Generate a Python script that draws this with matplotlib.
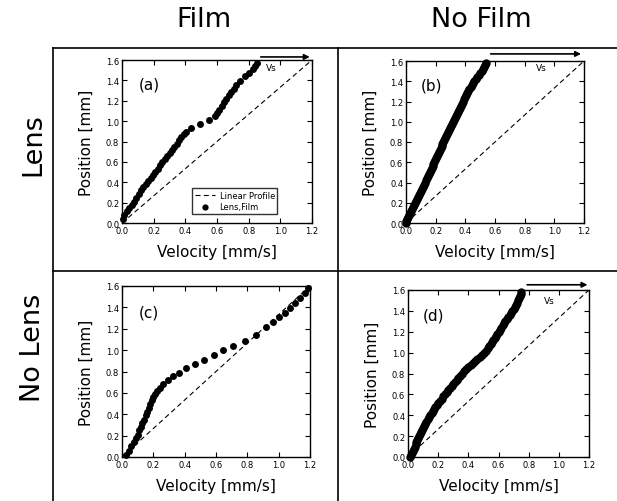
import matplotlib
matplotlib.use("Agg")
import matplotlib.pyplot as plt
from matplotlib.lines import Line2D

plt.rcParams['font.family'] = ['DejaVu Sans']

# ---------------- data ----------------
col_titles = ["Film", "No Film"]
row_titles = ["Lens", "No Lens"]
panel_labels = ["(a)", "(b)", "(c)", "(d)"]
xticks = [0.0, 0.2, 0.4, 0.6, 0.8, 1.0, 1.2]
yticks = [0.0, 0.2, 0.4, 0.6, 0.8, 1.0, 1.2, 1.4, 1.6]
linear_v = [0.0, 1.2]
linear_y = [0.0, 1.6]

vel_a = [0.005, 0.015, 0.03, 0.045, 0.06, 0.075, 0.09, 0.105, 0.12, 0.135, 0.15, 0.165,
         0.18, 0.195, 0.21, 0.225, 0.24, 0.255, 0.27, 0.285, 0.30, 0.315, 0.33, 0.345,
         0.36, 0.375, 0.39, 0.405, 0.435, 0.49, 0.55, 0.585, 0.60, 0.615, 0.63, 0.645,
         0.66, 0.675, 0.69, 0.705, 0.72, 0.745, 0.78, 0.805, 0.825, 0.84, 0.853]
pos_a = [0.04, 0.08, 0.12, 0.15, 0.18, 0.21, 0.25, 0.28, 0.32, 0.35, 0.38, 0.41,
         0.44, 0.47, 0.50, 0.53, 0.57, 0.60, 0.63, 0.66, 0.69, 0.72, 0.75, 0.78,
         0.81, 0.84, 0.87, 0.89, 0.93, 0.97, 1.01, 1.05, 1.08, 1.11, 1.15, 1.19,
         1.22, 1.26, 1.29, 1.32, 1.35, 1.39, 1.44, 1.47, 1.51, 1.54, 1.57]

vel_b = [0.000, 0.003, 0.010, 0.016, 0.023, 0.029, 0.036, 0.042, 0.049, 0.055,
         0.061, 0.067, 0.074, 0.081, 0.088, 0.094, 0.101, 0.107, 0.114, 0.121,
         0.128, 0.134, 0.141, 0.147, 0.153, 0.159, 0.166, 0.172, 0.179, 0.185,
         0.191, 0.197, 0.203, 0.209, 0.216, 0.222, 0.228, 0.234, 0.240, 0.246,
         0.252, 0.258, 0.264, 0.270, 0.277, 0.283, 0.290, 0.296, 0.303, 0.309,
         0.316, 0.322, 0.329, 0.336, 0.343, 0.350, 0.357, 0.364, 0.371, 0.378,
         0.386, 0.393, 0.400, 0.407, 0.414, 0.421, 0.428, 0.436, 0.444, 0.452,
         0.460, 0.469, 0.479, 0.490, 0.501, 0.512, 0.520, 0.527, 0.532, 0.537]
pos_b = [0.00, 0.02, 0.04, 0.06, 0.08, 0.10, 0.12, 0.14, 0.16, 0.18,
         0.20, 0.22, 0.24, 0.26, 0.28, 0.30, 0.32, 0.34, 0.36, 0.38,
         0.40, 0.42, 0.44, 0.46, 0.48, 0.50, 0.52, 0.54, 0.56, 0.58,
         0.60, 0.62, 0.64, 0.66, 0.68, 0.70, 0.72, 0.74, 0.76, 0.78,
         0.80, 0.82, 0.84, 0.86, 0.88, 0.90, 0.92, 0.94, 0.96, 0.98,
         1.00, 1.02, 1.04, 1.06, 1.08, 1.10, 1.12, 1.14, 1.16, 1.18,
         1.20, 1.22, 1.24, 1.26, 1.28, 1.30, 1.32, 1.34, 1.36, 1.38,
         1.40, 1.42, 1.44, 1.46, 1.48, 1.50, 1.52, 1.54, 1.56, 1.58]

vel_c = [0.025, 0.045, 0.06, 0.075, 0.09, 0.10, 0.11, 0.12, 0.13, 0.14, 0.15, 0.16,
         0.17, 0.18, 0.19, 0.20, 0.21, 0.225, 0.24, 0.262, 0.294, 0.326, 0.365,
         0.407, 0.465, 0.525, 0.586, 0.646, 0.71, 0.785, 0.853, 0.917, 0.966,
         1.002, 1.04, 1.07, 1.104, 1.136, 1.168, 1.19]
pos_c = [0.02, 0.06, 0.10, 0.14, 0.18, 0.21, 0.25, 0.28, 0.32, 0.35, 0.39, 0.42,
         0.46, 0.50, 0.53, 0.56, 0.59, 0.62, 0.65, 0.68, 0.72, 0.76, 0.79,
         0.83, 0.87, 0.91, 0.955, 1.00, 1.04, 1.09, 1.14, 1.22, 1.26,
         1.31, 1.35, 1.39, 1.44, 1.49, 1.53, 1.58]

vel_d = [0.012, 0.017, 0.024, 0.031, 0.038, 0.044, 0.050, 0.056, 0.062, 0.068,
         0.075, 0.082, 0.089, 0.095, 0.102, 0.108, 0.115, 0.122, 0.130, 0.138,
         0.147, 0.156, 0.164, 0.173, 0.182, 0.191, 0.201, 0.212, 0.223, 0.234,
         0.245, 0.256, 0.267, 0.278, 0.289, 0.300, 0.311, 0.322, 0.334, 0.347,
         0.360, 0.373, 0.386, 0.400, 0.415, 0.430, 0.445, 0.460, 0.476, 0.492,
         0.505, 0.517, 0.528, 0.538, 0.547, 0.556, 0.565, 0.574, 0.583, 0.592,
         0.601, 0.610, 0.618, 0.627, 0.636, 0.645, 0.655, 0.664, 0.673, 0.682,
         0.691, 0.700, 0.708, 0.716, 0.723, 0.730, 0.736, 0.742, 0.746, 0.750]
pos_d = [0.00, 0.02, 0.04, 0.06, 0.08, 0.10, 0.12, 0.14, 0.16, 0.18,
         0.20, 0.22, 0.24, 0.26, 0.28, 0.30, 0.32, 0.34, 0.36, 0.38,
         0.40, 0.42, 0.44, 0.46, 0.48, 0.50, 0.52, 0.54, 0.56, 0.58,
         0.60, 0.62, 0.64, 0.66, 0.68, 0.70, 0.72, 0.74, 0.76, 0.78,
         0.80, 0.82, 0.84, 0.86, 0.88, 0.90, 0.92, 0.94, 0.96, 0.98,
         1.00, 1.02, 1.04, 1.06, 1.08, 1.10, 1.12, 1.14, 1.16, 1.18,
         1.20, 1.22, 1.24, 1.26, 1.28, 1.30, 1.32, 1.34, 1.36, 1.38,
         1.40, 1.42, 1.44, 1.46, 1.48, 1.50, 1.52, 1.54, 1.56, 1.58]

# ---------------- figure ----------------
W, H = 617, 502
fig = plt.figure(figsize=(W / 100, H / 100), dpi=100)

def px_axes(x0, x1, ytop, ybot):
    return fig.add_axes([x0 / W, 1 - ybot / H, (x1 - x0) / W, (ybot - ytop) / H])

# frame lines
def fline(x0, y0, x1, y1):
    fig.add_artist(Line2D([x0 / W, x1 / W], [1 - y0 / H, 1 - y1 / H],
                          color='black', lw=1.2, transform=fig.transFigure))

fline(53, 49, 617, 49)
fline(53, 49, 53, 502)
fline(338, 49, 338, 502)
fline(53, 272, 617, 272)

fig.text(204 / W, 1 - 20 / H, col_titles[0], ha='center', va='center', fontsize=19.5)
fig.text(481 / W, 1 - 20 / H, col_titles[1], ha='center', va='center', fontsize=19.5)
fig.text(33 / W, 1 - 145 / H, row_titles[0], ha='center', va='center', fontsize=19.5, rotation=90)
fig.text(33 / W, 1 - 348 / H, row_titles[1], ha='center', va='center', fontsize=19.5, rotation=90)

boxes = [(122, 312, 61, 224), (406, 584, 62, 224), (122, 310, 287, 458), (408, 589, 291, 458)]
data = [(vel_a, pos_a), (vel_b, pos_b), (vel_c, pos_c), (vel_d, pos_d)]
msizes = [5.0, 6.0, 5.0, 6.0]
arrows = [(0.876, 1.186, 1.63, 0.94, 1.53), (0.571, 1.18, 1.67, 0.915, 1.54),
          None, (0.79, 1.19, 1.65, 0.94, 1.50)]

for i, (box, (vv, pp)) in enumerate(zip(boxes, data)):
    ax = px_axes(*box)
    ax.plot(linear_v, linear_y, color='black', lw=0.8, ls=(0, (4.5, 3)),
            label='Linear Profile', zorder=2)
    ax.plot(vv, pp, 'o', color='black', ms=msizes[i], mec='black', mew=0,
            label='Lens,Film', zorder=3, clip_on=False)
    ax.set_xlim(0, 1.2)
    ax.set_ylim(0, 1.6)
    ax.set_xticks(xticks)
    ax.set_yticks(yticks)
    ax.set_xticklabels([f"{t:.1f}" for t in xticks])
    ax.set_yticklabels([f"{t:.1f}" for t in yticks])
    ax.tick_params(direction='in', top=True, right=True, length=3.5, width=0.8,
                   labelsize=6, pad=2)
    for s in ax.spines.values():
        s.set_linewidth(1.0)
    ax.set_xlabel("Velocity [mm/s]", fontsize=11, labelpad=7)
    ax.set_ylabel("Position [mm]", fontsize=11, labelpad=9)
    ax.text(0.17, 1.36, panel_labels[i], fontsize=11, ha='center', va='center')
    if arrows[i] is not None:
        x0, x1, ya, xt, yt = arrows[i]
        ax.annotate('', xy=(x1, ya), xytext=(x0, ya), xycoords='data',
                    arrowprops=dict(arrowstyle='-|>', color='black', lw=1.2,
                                    mutation_scale=8, shrinkA=0, shrinkB=0),
                    annotation_clip=False)
        ax.text(xt, yt, 'Vs', fontsize=6.5, ha='center', va='center')
    if i == 0:
        ax.legend(loc='lower right', fontsize=6, frameon=True, fancybox=False,
                  edgecolor='black', handlelength=2.5, borderpad=0.3,
                  labelspacing=0.3, bbox_to_anchor=(0.84, 0.03), markerscale=0.9,
                  handletextpad=0.5)

fig.savefig("out.png", dpi=100)
